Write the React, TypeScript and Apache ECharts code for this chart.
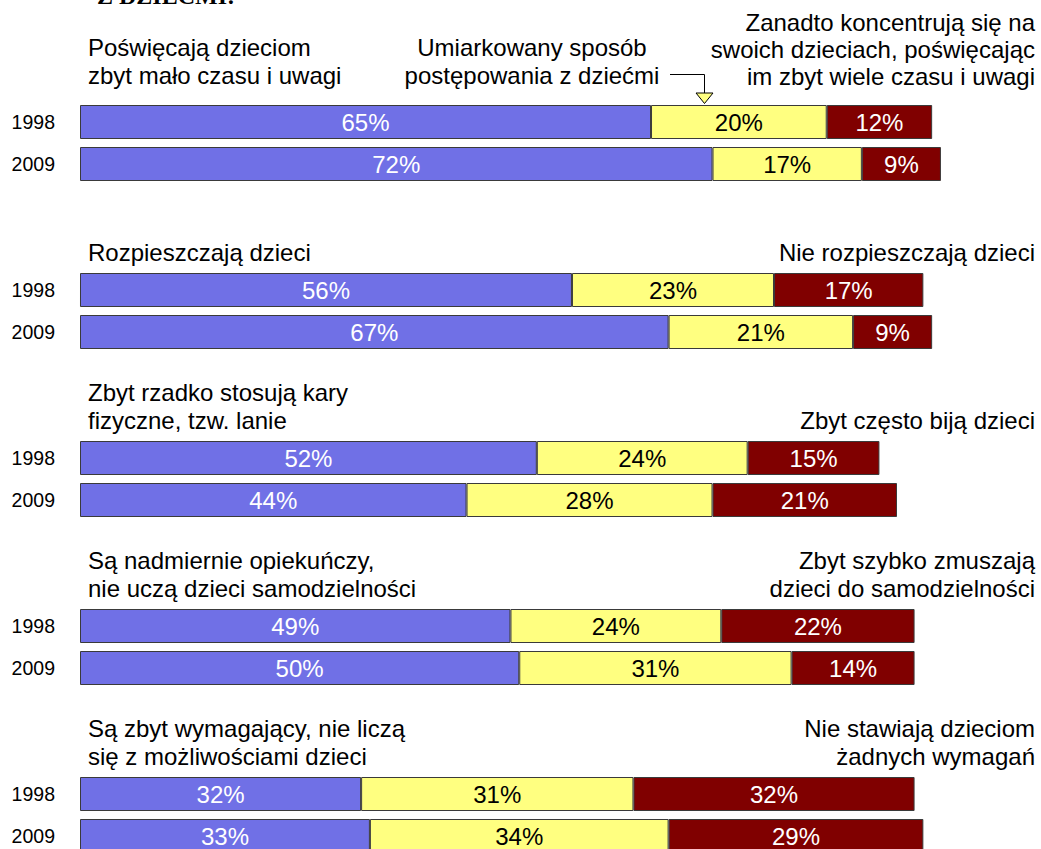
import React, { useEffect, useRef } from "react";
import * as echarts from "echarts";

// ---- data ----
const years = ["1998", "2009"];
const positive1998 = [65, 56, 52, 49, 32];
const middle1998 = [20, 23, 24, 24, 31];
const negative1998 = [12, 17, 15, 22, 32];
const positive2009 = [72, 67, 44, 50, 33];
const middle2009 = [17, 21, 28, 31, 34];
const negative2009 = [9, 9, 21, 14, 29];

const leftLabels = [
  ["Poświęcają dzieciom", "zbyt mało czasu i uwagi"],
  ["Rozpieszczają dzieci"],
  ["Zbyt rzadko stosują kary", "fizyczne, tzw. lanie"],
  ["Są nadmiernie opiekuńczy,", "nie uczą dzieci samodzielności"],
  ["Są zbyt wymagający, nie liczą", "się z możliwościami dzieci"],
];
const rightLabels = [
  ["Zanadto koncentrują się na", "swoich dzieciach, poświęcając", "im zbyt wiele czasu i uwagi"],
  ["Nie rozpieszczają dzieci"],
  ["Zbyt często biją dzieci"],
  ["Zbyt szybko zmuszają", "dzieci do samodzielności"],
  ["Nie stawiają dzieciom", "żadnych wymagań"],
];
const middleLabel = ["Umiarkowany sposób", "postępowania z dziećmi"];
const titleText = "Z DZIEĆMI:";

// ---- styling ----
const FONT = "Arial, 'Liberation Sans', sans-serif";
const BLUE = "#7070E6";
const YELLOW = "#FFFF80";
const RED = "#800000";
const BORDER = "#3a3a3a";
const SLOTS_PER_GROUP = 4;
const GROUPS = positive1998.length;
const SLOT_COUNT = SLOTS_PER_GROUP * (GROUPS - 1) + 2;

function buildCategories(): string[] {
  const cats: string[] = [];
  for (let i = 0; i < SLOT_COUNT; i++) {
    const g = Math.floor(i / SLOTS_PER_GROUP);
    const s = i % SLOTS_PER_GROUP;
    cats.push(s < 2 ? `${years[s]}#${g}` : `#${g}-${s}`);
  }
  return cats;
}

function buildSeries(a: number[], b: number[]): (number | string)[] {
  const out: (number | string)[] = [];
  for (let i = 0; i < SLOT_COUNT; i++) {
    const g = Math.floor(i / SLOTS_PER_GROUP);
    const s = i % SLOTS_PER_GROUP;
    out.push(s === 0 ? a[g] : s === 1 ? b[g] : "-");
  }
  return out;
}

const LINE_GAP = 28;
const BASE_OFFSET = 8.3; // central -> alphabetic baseline for 24px Arial

function textLines(lines: string[], x: number, lastBaseline: number, align: string, gap = LINE_GAP) {
  const n = lines.length;
  return lines.map((t, i) => ({
    type: "text",
    x,
    y: lastBaseline - (n - 1 - i) * gap - BASE_OFFSET,
    style: {
      text: t,
      font: `24px ${FONT}`,
      fill: "#000",
      align,
      verticalAlign: "middle",
    },
    silent: true,
  }));
}

export default function App() {
  const ref = useRef<HTMLDivElement>(null);
  useEffect(() => {
    if (!ref.current) return;
    const chart = echarts.init(ref.current, null, { renderer: "svg" });

    const labelCommon = {
      show: true,
      position: "inside",
      formatter: "{c}%",
      fontSize: 24,
      fontFamily: FONT,
    };
    const mk = (name: string, a: number[], b: number[], color: string, textColor: string) => ({
      name,
      type: "bar",
      stack: "total",
      barWidth: 34,
      data: buildSeries(a, b),
      itemStyle: { color, borderColor: BORDER, borderWidth: 1 },
      label: { ...labelCommon, color: textColor },
    });

    const graphics: any[] = [];
    graphics.push({
      type: "text",
      x: 97,
      y: 4 - 8.1,
      style: {
        text: titleText,
        font: "bold 24px 'Liberation Serif', 'Times New Roman', serif",
        fill: "#000",
        align: "left",
        verticalAlign: "middle",
      },
      silent: true,
    });
    for (let g = 0; g < GROUPS; g++) {
      const leftBase = g === 0 ? 84 : 93 + 168 * g;
      const rightBase = g === 0 ? 85 : 93 + 168 * g;
      graphics.push(...textLines(leftLabels[g], 88, leftBase, "left"));
      graphics.push(...textLines(rightLabels[g], 1035, rightBase, "right", g === 0 ? 27 : LINE_GAP));
    }
    graphics.push(...textLines(middleLabel, 532, 84, "center"));
    graphics.push({
      type: "polyline",
      shape: { points: [[670, 74.5], [704.5, 74.5], [704.5, 93]] },
      style: { stroke: "#000", lineWidth: 1, fill: "none" },
      silent: true,
    });
    graphics.push({
      type: "polygon",
      shape: { points: [[696, 93], [713, 93], [704.5, 103.5]] },
      style: { stroke: "#000", lineWidth: 1, fill: YELLOW },
      silent: true,
    });

    chart.setOption({
      animation: false,
      backgroundColor: "#fff",
      grid: {
        left: 80,
        top: 101,
        width: 878.5,
        height: SLOT_COUNT * 42,
        containLabel: false,
        outerBoundsMode: "none",
      },
      xAxis: { type: "value", min: 0, max: 100, show: false },
      yAxis: {
        type: "category",
        inverse: true,
        data: buildCategories(),
        axisLine: { show: false },
        axisTick: { show: false },
        splitLine: { show: false },
        axisLabel: {
          interval: 0,
          margin: 25,
          fontSize: 19.5,
          fontFamily: FONT,
          color: "#000",
          formatter: (v: string) => v.split("#")[0],
        },
      },
      series: [
        mk("pos", positive1998, positive2009, BLUE, "#fff"),
        mk("mid", middle1998, middle2009, YELLOW, "#000"),
        mk("neg", negative1998, negative2009, RED, "#fff"),
      ],
      graphic: graphics,
    });
    return () => chart.dispose();
  }, []);
  return (
    <div
      style={{
        position: "absolute",
        left: 0,
        top: 0,
        width: 1041,
        height: 849,
        overflow: "hidden",
        background: "#fff",
      }}
    >
      <div ref={ref} style={{ width: 1041, height: 900 }} />
    </div>
  );
}
